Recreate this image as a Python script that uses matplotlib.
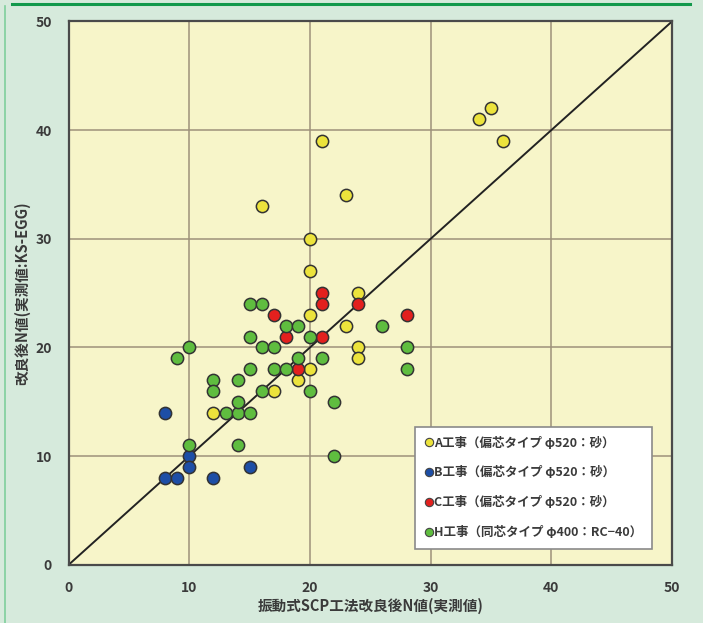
import matplotlib
matplotlib.use("Agg")
import matplotlib.pyplot as plt
from matplotlib.lines import Line2D

plt.rcParams['font.family'] = ['Noto Sans CJK JP', 'DejaVu Sans']

# 工事ごとの測定点 (x: 振動式SCP工法改良後N値, y: 改良後N値 KS-EGG)
a_x = [21, 16, 20, 20, 23, 34, 35, 36, 20, 24, 23, 24, 24, 20, 19, 17, 12]
a_y = [39, 33, 30, 27, 34, 41, 42, 39, 23, 25, 22, 20, 19, 18, 17, 16, 14]

b_x = [8, 10, 10, 15, 8, 9, 12]
b_y = [14, 10, 9, 9, 8, 8, 8]

c_x = [21, 21, 17, 18, 21, 19, 24, 28]
c_y = [25, 24, 23, 21, 21, 18, 24, 23]

h_x = [15, 16, 18, 19, 15, 20, 10, 16, 17, 9, 19, 21, 15, 17, 18, 12, 14,
       12, 16, 20, 22, 13, 14, 15, 14, 10, 14, 22, 26, 28, 28]
h_y = [24, 24, 22, 22, 21, 21, 20, 20, 20, 19, 19, 19, 18, 18, 18, 17, 17,
       16, 16, 16, 15, 14, 14, 14, 15, 11, 11, 10, 22, 20, 18]

labels = ['A工事（偏芯タイプ φ520：砂）',
          'B工事（偏芯タイプ φ520：砂）',
          'C工事（偏芯タイプ φ520：砂）',
          'H工事（同芯タイプ φ400：RC−40）']
colors = ['#ece33c', '#1d4ea6', '#e3201e', '#5fbd3f']

ticks = [0, 10, 20, 30, 40, 50]

fig = plt.figure(figsize=(7.03, 6.23), dpi=100, facecolor='#d6eadc')
ax = fig.add_axes([0.0976, 0.0934, 0.8585, 0.8724])
ax.set_facecolor('#f7f5c9')

ax.set_xlim(0, 50)
ax.set_ylim(0, 50)
ax.set_xticks(ticks)
ax.set_yticks(ticks)
ax.grid(True, color='#9e917a', lw=1.1)
ax.set_axisbelow(True)
ax.tick_params(length=0, pad=12, labelsize=10, labelcolor='#3a3a3a')
for lab in ax.get_xticklabels() + ax.get_yticklabels():
    lab.set_fontweight('bold')
for sp in ax.spines.values():
    sp.set_color('#4a4a4a')
    sp.set_linewidth(1.6)

ax.plot([0, 50], [0, 50], color='#222222', lw=1.4, zorder=2)

for xs, ys, col in [(a_x, a_y, colors[0]), (b_x, b_y, colors[1]),
                    (c_x, c_y, colors[2]), (h_x, h_y, colors[3])]:
    ax.scatter(xs, ys, s=78, c=col, edgecolors='#333333', linewidths=1.1, zorder=3)

handles = [Line2D([], [], ls='none', marker='o', markersize=6,
                  markerfacecolor=c, markeredgecolor='#444444', markeredgewidth=0.8)
           for c in colors]
leg = ax.legend(handles, labels, loc='lower right', bbox_to_anchor=(0.966, 0.03),
                fontsize=9, handletextpad=0.05, handlelength=0.7, labelspacing=1.35,
                borderpad=0.75, borderaxespad=0, fancybox=False, framealpha=1,
                edgecolor='#8a8a8a')
leg.get_frame().set_linewidth(1.2)
for t in leg.get_texts():
    t.set_color('#3a3a3a')
    t.set_fontweight('bold')

ax.set_xlabel('振動式SCP工法改良後N値(実測値)', fontsize=10.5, fontweight='bold',
              color='#3a3a3a', labelpad=2)
ax.set_ylabel('改良後N値(実測値:KS-EGG)', fontsize=10.5, fontweight='bold',
              color='#3a3a3a', labelpad=4)

# 上端の緑線と左端の枠線
fig.add_artist(Line2D([0.017, 0.982], [0.993, 0.993], color='#12994c', lw=2.2))
fig.add_artist(Line2D([0.007, 0.007], [0.0, 0.99], color='#7fcf9c', lw=1.2))

fig.savefig('out.png', dpi=100, facecolor=fig.get_facecolor())
